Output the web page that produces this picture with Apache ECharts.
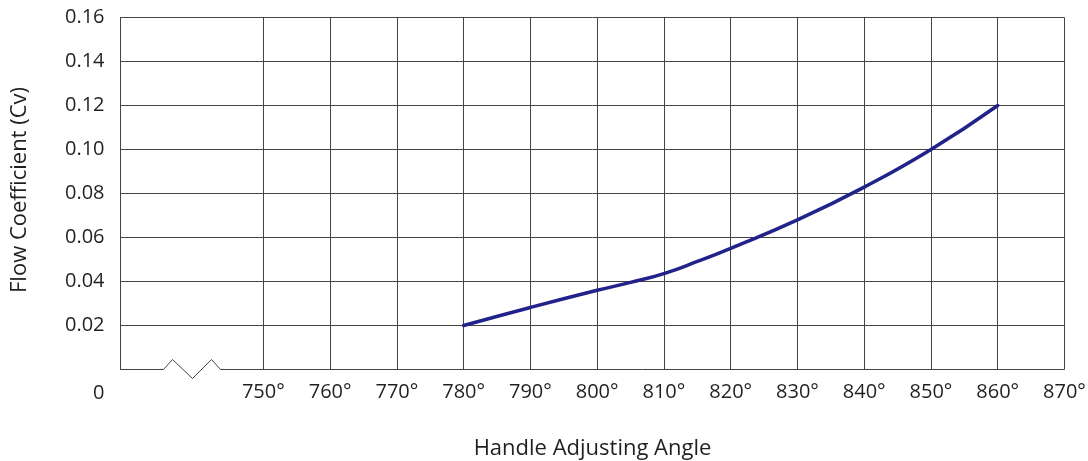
<!DOCTYPE html>
<html>
<head>
<meta charset="utf-8">
<script src="https://cdn.jsdelivr.net/npm/echarts@6/dist/echarts.min.js"></script>
<style>
  html, body { margin: 0; padding: 0; background: #fff; }
  #chart { width: 1088px; height: 461px; }
</style>
</head>
<body>
<div id="chart"></div>
<script>
// Handle adjusting angle (degrees) vs flow coefficient
const angles = [780, 790, 800, 805, 810, 815, 820, 830, 840, 850, 860];
const cvValues = [0.0200, 0.0282, 0.0360, 0.0396, 0.0436, 0.0491, 0.0551, 0.0680, 0.0829, 0.1000, 0.1200];
const angleTicks = [750, 760, 770, 780, 790, 800, 810, 820, 830, 840, 850, 860, 870];
const xTitle = 'Handle Adjusting Angle';
const yTitle = 'Flow Coefficient (Cv)';

const FONT = '"Open Sans", "Noto Sans", sans-serif';
const TEXT = '#231f20';
const GRID = '#444';
const X_MIN = 728.6;   // leaves room on the left for the axis break
const X_MAX = 870;

const chart = echarts.init(document.getElementById('chart'), null, { renderer: 'canvas' });

const option = {
  animation: false,
  backgroundColor: '#fff',
  grid: {
    left: 120.5, right: 23.5, top: 17.5, bottom: 91.5,
    containLabel: false,
    outerBoundsMode: 'none'
  },
  xAxis: {
    type: 'value',
    min: X_MIN,
    max: X_MAX,
    name: xTitle,
    nameLocation: 'middle',
    nameGap: 68,
    nameTextStyle: { fontFamily: FONT, fontSize: 22, color: TEXT },
    axisLine: { show: false },
    axisTick: { show: false, customValues: angleTicks },
    axisLabel: {
      customValues: angleTicks,
      formatter: v => v + '°',
      fontFamily: FONT, fontSize: 20, color: TEXT, margin: 13
    },
    splitLine: { show: true, lineStyle: { color: GRID, width: 1 } }
  },
  yAxis: {
    type: 'value',
    min: 0,
    max: 0.16,
    interval: 0.02,
    name: yTitle,
    nameLocation: 'middle',
    nameGap: 90,
    nameTextStyle: { fontFamily: FONT, fontSize: 22, color: TEXT, padding: [0, 0, 0, 7] },
    axisLine: { show: true, lineStyle: { color: GRID, width: 1 } },
    axisTick: { show: false },
    axisLabel: {
      fontFamily: FONT, fontSize: 20, color: TEXT, margin: 16,
      formatter: v => (v === 0 ? '{zero|0}' : v.toFixed(2)),
      rich: {
        zero: { fontFamily: FONT, fontSize: 20, color: TEXT, padding: [47, 0, 0, 0] }
      }
    },
    splitLine: { show: true, showMinLine: false, lineStyle: { color: GRID, width: 1 } }
  },
  series: [{
    type: 'line',
    data: angles.map((a, i) => [a, cvValues[i]]),
    smooth: 0.5,
    symbol: 'none',
    lineStyle: { color: '#21238a', width: 3.5, cap: 'round' }
  }]
};

chart.setOption(option);

// Bottom axis line with a zigzag break near the left end
const o = chart.convertToPixel({ gridIndex: 0 }, [X_MIN, 0]);
const e = chart.convertToPixel({ gridIndex: 0 }, [X_MAX, 0]);
const y0 = o[1];
const x0 = o[0];
chart.setOption({
  graphic: [{
    type: 'polyline',
    silent: true,
    shape: {
      points: [
        [x0, y0], [x0 + 43, y0], [x0 + 52, y0 - 10], [x0 + 72, y0 + 9],
        [x0 + 91, y0 - 10], [x0 + 100, y0], [e[0], y0]
      ]
    },
    style: { stroke: GRID, lineWidth: 1, fill: null }
  }]
});
</script>
</body>
</html>
